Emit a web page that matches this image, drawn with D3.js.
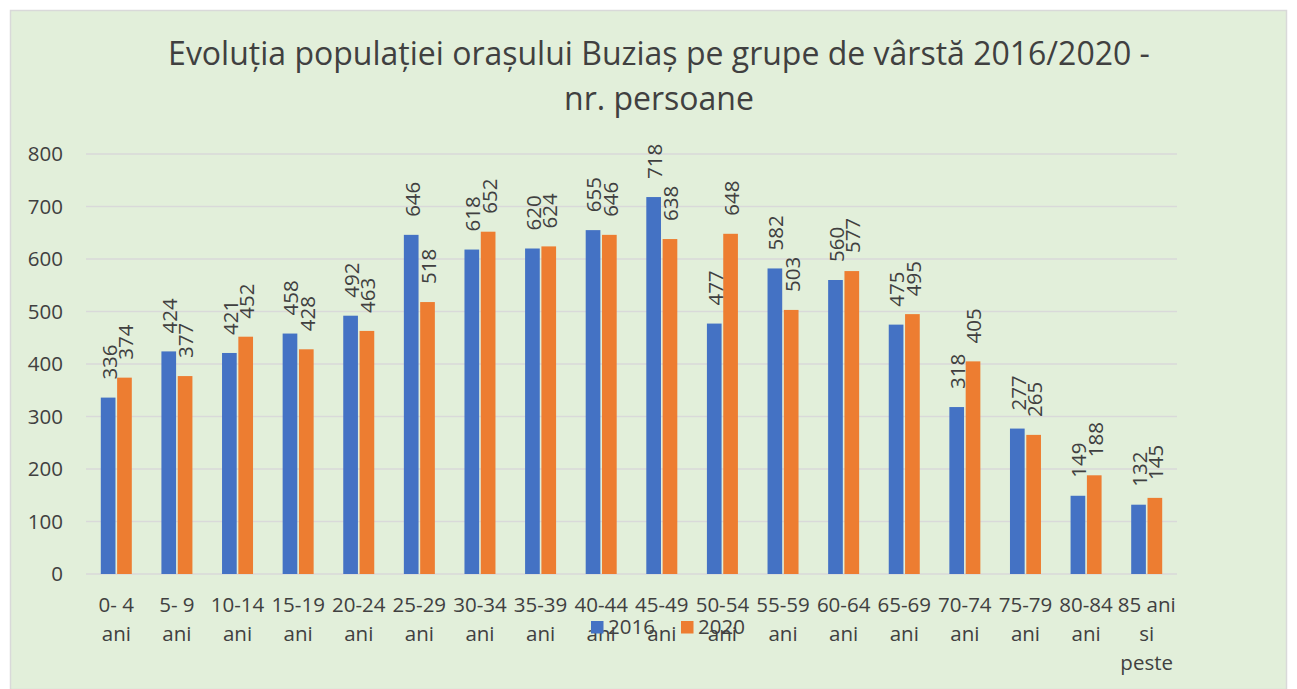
<!DOCTYPE html>
<html><head><meta charset="utf-8">
<script src="https://cdn.jsdelivr.net/npm/d3@7"></script>
<style>body{margin:0;background:#fff;}svg{display:block;font-family:"Open Sans",sans-serif;}</style>
</head><body>
<svg id="c" width="1297" height="689"></svg>
<script>
const categories = [["0- 4","ani"],["5- 9","ani"],["10-14","ani"],["15-19","ani"],["20-24","ani"],["25-29","ani"],["30-34","ani"],["35-39","ani"],["40-44","ani"],["45-49","ani"],["50-54","ani"],["55-59","ani"],["60-64","ani"],["65-69","ani"],["70-74","ani"],["75-79","ani"],["80-84","ani"],["85 ani","si","peste"]];
const series2016 = [336,424,421,458,492,646,618,620,655,718,477,582,560,475,318,277,149,132];
const series2020 = [374,377,452,428,463,518,652,624,646,638,648,503,577,495,405,265,188,145];
const seriesNames = ["2016","2020"];
const colors = ["#4472c4","#ed7d31"];
const yTicks = [0,100,200,300,400,500,600,700,800];
const titleLines = ["Evoluția populației orașului Buziaș pe grupe de vârstă 2016/2020 -","nr. persoane"];

const svg = d3.select("#c");
svg.append("rect").attr("x",10.5).attr("y",10.5).attr("width",1276).attr("height",679)
  .attr("fill","#e2efda").attr("stroke","#d9d9d9").attr("stroke-width",1.5);

const x0 = d3.scaleBand().domain(d3.range(categories.length)).range([86,1177]).paddingInner(0).paddingOuter(0);
const y = d3.scaleLinear().domain([0,800]).range([574,154]);
const x1 = d3.scaleBand().domain([0,1]).range([x0.bandwidth()/2-15.5, x0.bandwidth()/2+15.5]).paddingInner(0.1);

// gridlines
svg.append("g").selectAll("line").data(yTicks).join("line")
  .attr("x1",86).attr("x2",1177).attr("y1",d=>y(d)).attr("y2",d=>y(d))
  .attr("stroke","#d9d9d9").attr("stroke-width",1.3);

const fs = 20.5, txt = "#404040";
// y axis labels
svg.append("g").selectAll("text").data(yTicks).join("text")
  .attr("x",63).attr("y",d=>y(d)).attr("dy","0.36em").attr("text-anchor","end")
  .attr("font-size",fs).attr("fill",txt).text(d=>d);

const data = categories.map((c,i)=>({i, vals:[series2016[i],series2020[i]]}));
const g = svg.append("g").selectAll("g").data(data).join("g")
  .attr("transform",d=>`translate(${x0(d.i)},0)`);
g.selectAll("rect").data(d=>d.vals.map((v,k)=>({v,k}))).join("rect")
  .attr("x",d=>x1(d.k)).attr("width",x1.bandwidth())
  .attr("y",d=>y(d.v)).attr("height",d=>y(0)-y(d.v))
  .attr("fill",d=>colors[d.k]);
g.selectAll("text").data(d=>d.vals.map((v,k)=>({v,k}))).join("text")
  .attr("transform",d=>`translate(${x1(d.k)+x1.bandwidth()/2+1},${y(d.v)-18}) rotate(-90)`)
  .attr("dy","0.36em").attr("text-anchor","start")
  .attr("font-size",fs).attr("fill",txt).text(d=>d.v);

// x labels
const xl = svg.append("g").selectAll("text").data(categories).join("text")
  .attr("text-anchor","middle").attr("font-size",fs).attr("fill",txt);
xl.each(function(c,i){
  const t=d3.select(this);
  c.forEach((line,j)=>t.append("tspan").attr("x",x0(i)+x0.bandwidth()/2).attr("y",612+j*29).text(line));
});

// legend
const leg = svg.append("g");
const legX = [591,681];
seriesNames.forEach((n,k)=>{
  leg.append("rect").attr("x",legX[k]).attr("y",621).attr("width",12.5).attr("height",12.5).attr("fill",colors[k]);
  leg.append("text").attr("x",legX[k]+17).attr("y",634).attr("font-size",fs).attr("fill",txt).text(n);
});

// title
svg.append("g").selectAll("text").data(titleLines).join("text")
  .attr("x",659).attr("y",(d,i)=>65+i*45).attr("text-anchor","middle")
  .attr("font-size",32).attr("fill",txt).text(d=>d);
</script>
</body></html>
